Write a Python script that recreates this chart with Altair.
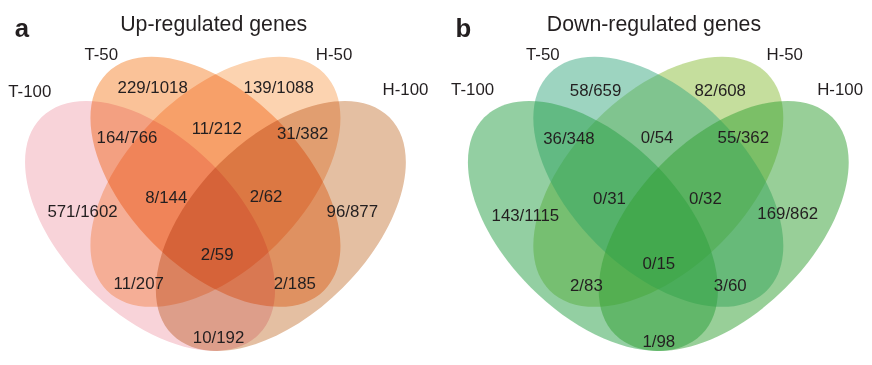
import altair as alt
import pandas as pd

# ------------------------------------------------------------------ data
SET_NAMES = ["T-100", "T-50", "H-50", "H-100"]
REGION_KEYS = ["T-50", "H-50", "T-100&T-50", "T-50&H-50", "H-50&H-100", "T-100",
               "T-100&T-50&H-50", "T-50&H-50&H-100", "H-100", "all",
               "T-100&H-50", "T-50&H-100", "T-100&H-100"]
UP_COUNTS = ["229/1018", "139/1088", "164/766", "11/212", "31/382", "571/1602",
             "8/144", "2/62", "96/877", "2/59", "11/207", "2/185", "10/192"]
DOWN_COUNTS = ["58/659", "82/608", "36/348", "0/54", "55/362", "143/1115",
               "0/31", "0/32", "169/862", "0/15", "2/83", "3/60", "1/98"]
UP_TITLE = "Up-regulated genes"
DOWN_TITLE = "Down-regulated genes"

# ------------------------------------------------------------------ layout (unit Venn coordinates)
ELLIPSE_X = [0.35, 0.50, 0.50, 0.65]
ELLIPSE_Y = [0.47, 0.57, 0.57, 0.47]
ELLIPSE_ANGLE = [45, 45, 135, 135]
K = 0.570           # minor / major axis ratio
C = 0.5523          # bezier circle constant
ELLIPSE_PATH = (f"M1,0 C1,{C*K:.4f} {C},{K} 0,{K} C-{C},{K} -1,{C*K:.4f} -1,0 "
                f"C-1,-{C*K:.4f} -{C},-{K} 0,-{K} C{C},-{K} 1,-{C*K:.4f} 1,0 Z")
ELLIPSE_SIZE = 310 ** 2

UP_LX = [0.356, 0.645, 0.297, 0.503, 0.700, 0.195, 0.387, 0.616, 0.814, 0.504, 0.324, 0.682, 0.507]
UP_LY = [0.783, 0.783, 0.669, 0.689, 0.678, 0.502, 0.534, 0.536, 0.502, 0.405, 0.338, 0.338, 0.215]
DN_LX = [0.356, 0.642, 0.295, 0.497, 0.695, 0.195, 0.388, 0.608, 0.797, 0.501, 0.335, 0.665, 0.501]
DN_LY = [0.776, 0.776, 0.666, 0.669, 0.669, 0.493, 0.531, 0.531, 0.496, 0.383, 0.334, 0.334, 0.207]
UP_SX = [0.074, 0.238, 0.772, 0.936]
UP_SY = [0.774, 0.857, 0.857, 0.779]
DN_SX = [0.074, 0.235, 0.790, 0.917]
DN_SY = [0.779, 0.857, 0.857, 0.779]

PX_X = 440.0
X0 = 0.0241
Y1 = 0.9607
H = 347
Y0 = Y1 - H / 445.0

FONT = "Liberation Sans"
INK = "#231f20"


def panel(letter, letter_x, title, title_x, counts, lx, ly, sx, sy,
          colors, order, blend, opacity, width):
    xs = alt.Scale(domain=[X0, X0 + width / PX_X], nice=False, zero=False)
    ys = alt.Scale(domain=[Y0, Y1], nice=False, zero=False)
    X = lambda: alt.X("x:Q", scale=xs, axis=None)
    Y = lambda: alt.Y("y:Q", scale=ys, axis=None)
    layers = []
    for i in order:
        df = pd.DataFrame({"x": [ELLIPSE_X[i]], "y": [ELLIPSE_Y[i]], "set": [SET_NAMES[i]]})
        kw = dict(shape=ELLIPSE_PATH, size=ELLIPSE_SIZE, angle=ELLIPSE_ANGLE[i],
                  filled=True, color=colors[i], opacity=opacity, strokeWidth=0)
        if blend:
            kw["blend"] = blend
        layers.append(alt.Chart(df).mark_point(**kw).encode(x=X(), y=Y()))
    reg = pd.DataFrame({"x": lx, "y": ly, "label": counts, "region": REGION_KEYS})
    layers.append(alt.Chart(reg).mark_text(font=FONT, fontSize=17, color=INK)
                  .encode(x=X(), y=Y(), text="label:N"))
    sets = pd.DataFrame({"x": sx, "y": sy, "label": SET_NAMES})
    layers.append(alt.Chart(sets).mark_text(font=FONT, fontSize=17, color=INK)
                  .encode(x=X(), y=Y(), text="label:N"))
    tdf = pd.DataFrame({"x": [title_x], "y": [0.925], "label": [title]})
    layers.append(alt.Chart(tdf).mark_text(font=FONT, fontSize=21.5, color=INK)
                  .encode(x=X(), y=Y(), text="label:N"))
    ldf = pd.DataFrame({"x": [letter_x], "y": [0.916], "label": [letter]})
    layers.append(alt.Chart(ldf).mark_text(font=FONT, fontSize=26, fontWeight="bold", color=INK)
                  .encode(x=X(), y=Y(), text="label:N"))
    return alt.layer(*layers).properties(width=width, height=H)


UP_COLORS = ["#f8d3d9", "#fac298", "#fcd3b0", "#e4bfa2"]
DN_COLORS = ["#28a046", "#3caa82", "#8cbe3c", "#32a032"]

pa = panel("a", 0.056, UP_TITLE, 0.496, UP_COUNTS, UP_LX, UP_LY, UP_SX, UP_SY,
           UP_COLORS, [0, 1, 2, 3], "multiply", 1.0, 436)
pb = panel("b", 0.0525, DOWN_TITLE, 0.49, DOWN_COUNTS, DN_LX, DN_LY, DN_SX, DN_SY,
           DN_COLORS, [2, 1, 0, 3], None, 0.5, 409)

chart = (alt.hconcat(pa, pb, spacing=11)
         .properties(padding=0)
         .configure_view(stroke=None))

chart.save("out.html", embed_options={"renderer": "svg", "actions": False})
